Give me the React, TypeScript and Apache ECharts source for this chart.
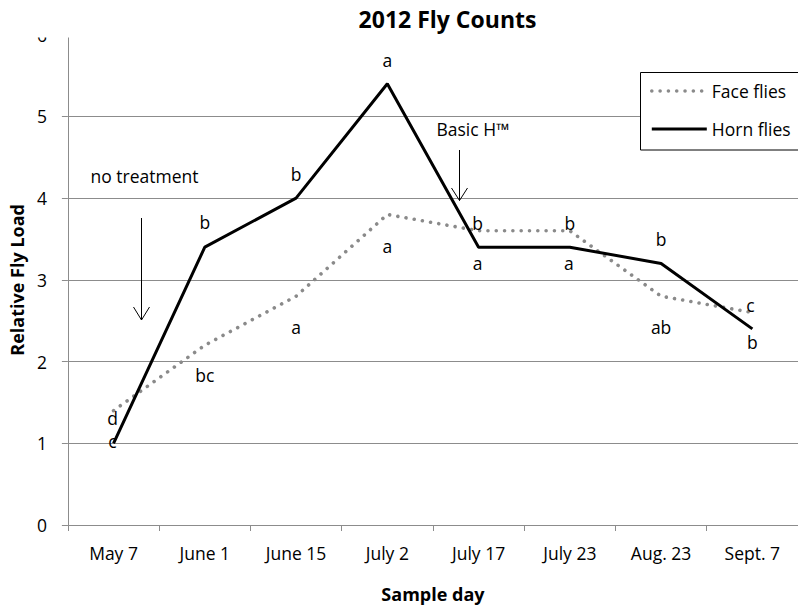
import React, { useEffect, useRef } from "react";
import * as echarts from "echarts";

// Sample days and relative fly loads for the 2012 season
const sampleDays = ["May 7", "June 1", "June 15", "July 2", "July 17", "July 23", "Aug. 23", "Sept. 7"];
const faceFlies = [1.4, 2.2, 2.8, 3.8, 3.6, 3.6, 2.8, 2.6];
const hornFlies = [1.0, 3.4, 4.0, 5.4, 3.4, 3.4, 3.2, 2.4];

// Significance letters attached to each point
const faceLetters = ["d", "bc", "a", "a", "b", "b", "ab", "c"];
const hornLetters = ["c", "b", "b", "a", "a", "a", "b", "b"];

// Y axis range and step
const yMin = 0;
const yMax = 6;
const yStep = 1;

// Where each letter sits relative to its point (px)
const faceLetterShift = [[-1, 7], [0, 30], [0, 31], [0, 32], [-1, -8], [0, -8], [0, 31], [-2, -8]];
const hornLetterShift = [[-1, -2], [0, -25], [0, -24], [0, -24], [-1, 16], [-1, 16], [0, -25], [0, 13]];

const FONT = "'Open Sans', 'Noto Sans', sans-serif";
const GRID_GRAY = "#8c8c8c";
const TEXT_SIZE = 17.5;

function withLetters(values: number[], letters: string[], shifts: number[][]) {
  return values.map((v, i) => ({
    value: v,
    label: {
      show: true,
      position: "inside" as const,
      offset: shifts[i],
      formatter: () => letters[i],
    },
  }));
}

export default function App() {
  const ref = useRef<HTMLDivElement>(null);

  useEffect(() => {
    if (!ref.current) return;
    const chart = echarts.init(ref.current, undefined, { renderer: "svg" });

    const letterLabel = {
      show: true,
      color: "#000",
      fontFamily: FONT,
      fontSize: TEXT_SIZE,
    };

    chart.setOption({
      animation: false,
      backgroundColor: "#fff",
      title: {
        text: "2012 Fly Counts",
        left: 447.5,
        top: 7,
        padding: 0,
        textAlign: "center",
        z: 12,
        textStyle: { fontFamily: FONT, fontWeight: "bold", fontSize: 23, color: "#000" },
      },
      legend: {
        orient: "vertical",
        left: 650,
        top: 82,
        padding: 0,
        itemWidth: 55,
        itemHeight: 12,
        itemGap: 20,
        z: 6,
        itemStyle: { opacity: 0 },
        lineStyle: { width: "inherit" },
        textStyle: { fontFamily: FONT, fontSize: TEXT_SIZE, color: "#000" },
        data: ["Face flies", "Horn flies"],
      },
      grid: { left: 64, right: -2, top: 34.7, bottom: 82, containLabel: false },
      xAxis: {
        type: "category",
        data: sampleDays,
        boundaryGap: true,
        name: "Sample day",
        nameLocation: "middle",
        nameGap: 60,
        nameTextStyle: { fontFamily: FONT, fontWeight: "bold", fontSize: 18, color: "#000" },
        axisLine: { lineStyle: { color: GRID_GRAY, width: 1 } },
        axisTick: { show: true, length: 6, alignWithLabel: false, lineStyle: { color: GRID_GRAY } },
        axisLabel: { margin: 19, fontFamily: FONT, fontSize: TEXT_SIZE, color: "#000", interval: 0 },
        splitLine: { show: false },
      },
      yAxis: {
        type: "value",
        min: yMin,
        max: yMax,
        interval: yStep,
        name: "Relative Fly Load",
        nameLocation: "middle",
        nameGap: 41,
        nameTextStyle: { fontFamily: FONT, fontWeight: "bold", fontSize: 18, color: "#000" },
        axisLine: { show: true, lineStyle: { color: GRID_GRAY, width: 1 } },
        axisTick: { show: true, length: 6, lineStyle: { color: GRID_GRAY } },
        axisLabel: { margin: 21, fontFamily: FONT, fontSize: TEXT_SIZE, color: "#000" },
        splitLine: { show: true, lineStyle: { color: GRID_GRAY, width: 1 } },
      },
      series: [
        {
          name: "Face flies",
          type: "line",
          symbol: "circle",
          symbolSize: 0.001,
          showSymbol: true,
          z: 2,
          lineStyle: { color: "#8a8a8a", width: 3.6, type: [0.01, 8.3], cap: "round" },
          itemStyle: { color: "#8a8a8a" },
          label: letterLabel,
          data: withLetters(faceFlies, faceLetters, faceLetterShift),
        },
        {
          name: "Horn flies",
          type: "line",
          symbol: "circle",
          symbolSize: 0.001,
          showSymbol: true,
          z: 3,
          lineStyle: { color: "#000", width: 3 },
          itemStyle: { color: "#000" },
          label: letterLabel,
          data: withLetters(hornFlies, hornLetters, hornLetterShift),
        },
      ],
      graphic: [
        // top strip cut off above the plot
        { type: "rect", z: 10, shape: { x: 0, y: 0, width: 798, height: 37.5 }, style: { fill: "#fff" } },
        // legend frame
        {
          type: "rect",
          z: 5,
          shape: { x: 640.5, y: 72.5, width: 160, height: 77.5 },
          style: { fill: "#fff", stroke: "#000", lineWidth: 1 },
        },
        // "no treatment" note and arrow
        {
          type: "text",
          z: 6,
          style: { text: "no treatment", x: 144.5, y: 176, align: "center", verticalAlign: "middle", font: `${TEXT_SIZE}px ${FONT}`, fill: "#000" },
        },
        { type: "line", z: 6, shape: { x1: 141.5, y1: 218, x2: 141.5, y2: 320 }, style: { stroke: "#000", lineWidth: 1 } },
        { type: "polyline", z: 6, shape: { points: [[133.5, 307], [141.5, 320], [149.5, 307]] }, style: { stroke: "#000", lineWidth: 1, fill: "none" } },
        // "Basic H™" note and arrow
        {
          type: "text",
          z: 6,
          style: { text: "Basic H™", x: 473, y: 129, align: "center", verticalAlign: "middle", font: `${TEXT_SIZE}px ${FONT}`, fill: "#000" },
        },
        { type: "line", z: 6, shape: { x1: 459.5, y1: 150, x2: 459.5, y2: 200.5 }, style: { stroke: "#000", lineWidth: 1 } },
        { type: "polyline", z: 6, shape: { points: [[451.5, 188], [459.5, 200.5], [467.5, 188]] }, style: { stroke: "#000", lineWidth: 1, fill: "none" } },
      ],
    });

    return () => chart.dispose();
  }, []);

  return (
    <div
      ref={ref}
      style={{ position: "absolute", left: 0, top: 0, width: 798, height: 608 }}
    />
  );
}
